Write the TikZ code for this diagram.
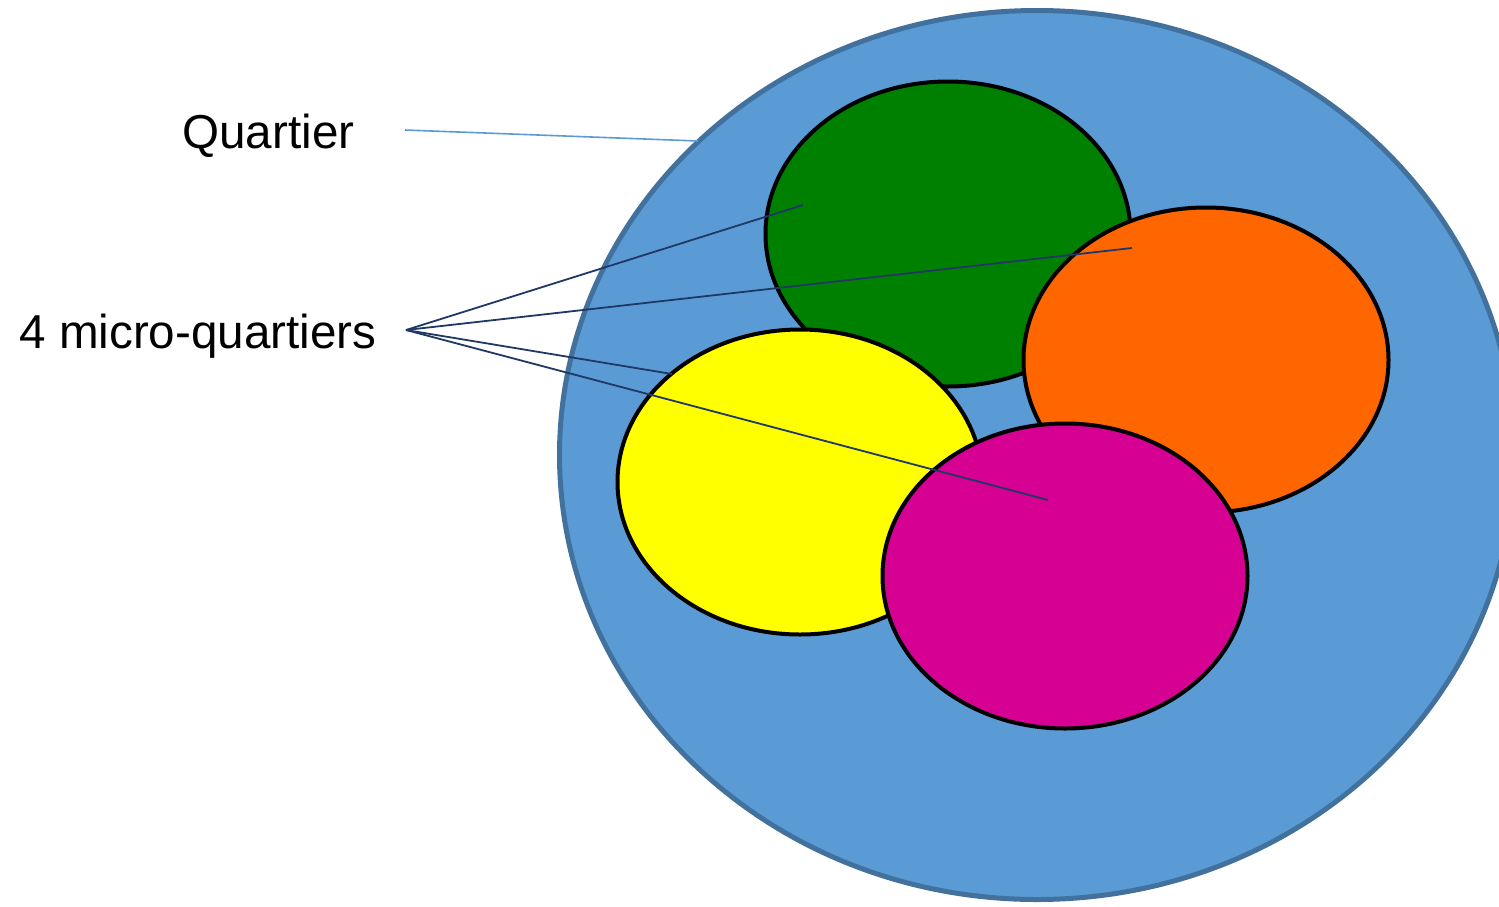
\documentclass[tikz,border=0pt]{standalone}
\usepackage{fontspec}
\setmainfont{Liberation Sans}
\usetikzlibrary{shapes.geometric}
\definecolor{quartierblue}{HTML}{5B9BD5}
\definecolor{rimblue}{HTML}{41719C}
\definecolor{mqgreen}{HTML}{008000}
\definecolor{mqorange}{HTML}{FF6600}
\definecolor{mqyellow}{HTML}{FFFF00}
\definecolor{mqmagenta}{HTML}{D60093}
\definecolor{linknavy}{HTML}{203864}
\begin{document}
\begin{tikzpicture}[x=0.5pt, y=-0.5pt,
		zone/.style={ellipse, draw=black, line width=2pt, inner sep=0pt, minimum width=182.5pt, minimum height=152.5pt},
		lbl/.style={font=\fontsize{23.8}{28}\selectfont, inner sep=0pt},
		pointer/.style={draw=linknavy, line width=0.9pt}]
		\useasboundingbox (0,0) rectangle (1499,906);
		\clip (0,0) rectangle (1499,906);
		% quartier and its micro-quartiers
		\node [ellipse, fill=quartierblue, draw=rimblue, line width=2.5pt, inner sep=0pt, minimum width=477.5pt, minimum height=444.5pt] (quartier) at (1037,455) {};
		\node [zone, fill=mqgreen] (green) at (948,234) {};
		\node [zone, fill=mqorange] (orange) at (1206,360) {};
		\node [zone, fill=mqyellow] (yellow) at (800,482) {};
		\node [zone, fill=mqmagenta] (magenta) at (1065,576) {};
		% labels
		\node [lbl, anchor=base west] (qlabel) at (182,148) {Quartier};
		\node [lbl, anchor=base west] (mlabel) at (19,348) {4 micro-quartiers};
		\coordinate (qstart) at (405,130);
		\coordinate (qend) at (698,141);
		\coordinate (fan) at (406,330);
		\coordinate (gend) at (803,205);
		\coordinate (oend) at (1132,248);
		\coordinate (yend) at (672,374);
		\coordinate (mend) at (1048,500);
		\draw [draw=quartierblue, line width=0.8pt] (qstart) -- (qend);
		\draw [pointer] (fan) -- (gend);
		\draw [pointer] (fan) -- (oend);
		\draw [pointer] (fan) -- (yend);
		\draw [pointer] (fan) -- (mend);
	\end{tikzpicture}
\end{document}
